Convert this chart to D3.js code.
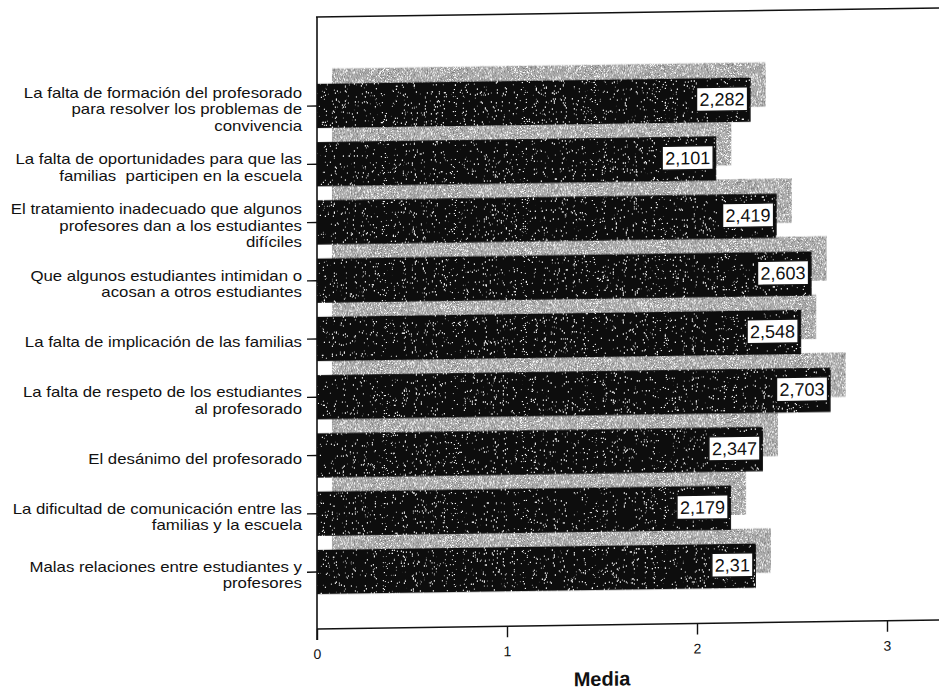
<!DOCTYPE html>
<html>
<head>
<meta charset="utf-8">
<script src="https://cdn.jsdelivr.net/npm/d3@7"></script>
<style>
  html, body { margin: 0; padding: 0; background: #fff; }
  svg { display: block; }
  text { font-family: "Liberation Sans", Arial, Helvetica, sans-serif; fill: #111; }
</style>
</head>
<body>
<svg id="chart" width="939" height="693"></svg>
<script>
// Problemas de convivencia: puntuación media por ítem
const categories = [
  ["La falta de formación del profesorado", "para resolver los problemas de", "convivencia"],
  ["La falta de oportunidades para que las", "familias  participen en la escuela"],
  ["El tratamiento inadecuado que algunos", "profesores dan a los estudiantes", "difíciles"],
  ["Que algunos estudiantes intimidan o", "acosan a otros estudiantes"],
  ["La falta de implicación de las familias"],
  ["La falta de respeto de los estudiantes", "al profesorado"],
  ["El desánimo del profesorado"],
  ["La dificultad de comunicación entre las", "familias y la escuela"],
  ["Malas relaciones entre estudiantes y", "profesores"]
];
const values = [2.282, 2.101, 2.419, 2.603, 2.548, 2.703, 2.347, 2.179, 2.31];
const xTicks = [0, 1, 2, 3];
const xTitle = "Media";

const svg = d3.select("#chart");
const defs = svg.append("defs");

// grain for the dark bars: sparse white specks
const fDark = defs.append("filter").attr("id", "grainDark")
  .attr("x", 0).attr("y", 0).attr("width", 1).attr("height", 1);
fDark.append("feTurbulence").attr("type", "fractalNoise").attr("baseFrequency", 1.1)
  .attr("numOctaves", 2).attr("seed", 4).attr("result", "n");
fDark.append("feColorMatrix").attr("in", "n").attr("type", "matrix")
  .attr("values", "0 0 0 0 1  0 0 0 0 1  0 0 0 0 1  16 0 0 0 -11.2").attr("result", "specks");
fDark.append("feComposite").attr("in", "specks").attr("in2", "SourceGraphic")
  .attr("operator", "in").attr("result", "clipped");
const mD = fDark.append("feMerge");
mD.append("feMergeNode").attr("in", "SourceGraphic");
mD.append("feMergeNode").attr("in", "clipped");

// grain for the grey shadow bars: fine salt and pepper stipple
const fGrey = defs.append("filter").attr("id", "grainGrey")
  .attr("x", 0).attr("y", 0).attr("width", 1).attr("height", 1);
fGrey.append("feTurbulence").attr("type", "fractalNoise").attr("baseFrequency", 1.3)
  .attr("numOctaves", 2).attr("seed", 9).attr("result", "n");
fGrey.append("feColorMatrix").attr("in", "n").attr("type", "matrix")
  .attr("values", "0 0 0 0 1  0 0 0 0 1  0 0 0 0 1  10 0 0 0 -5.6").attr("result", "white");
fGrey.append("feColorMatrix").attr("in", "n").attr("type", "matrix")
  .attr("values", "0 0 0 0 0.2  0 0 0 0 0.2  0 0 0 0 0.2  0 -10 0 0 4.3").attr("result", "black");
fGrey.append("feComposite").attr("in", "white").attr("in2", "SourceGraphic")
  .attr("operator", "in").attr("result", "w2");
fGrey.append("feComposite").attr("in", "black").attr("in2", "SourceGraphic")
  .attr("operator", "in").attr("result", "b2");
const mG = fGrey.append("feMerge");
mG.append("feMergeNode").attr("in", "SourceGraphic");
mG.append("feMergeNode").attr("in", "w2");
mG.append("feMergeNode").attr("in", "b2");

const x0 = 317;
const x = d3.scaleLinear().domain([0, 3.3]).range([x0, x0 + 3.3 * 190]);
const y = d3.scaleBand().domain(d3.range(categories.length))
  .range([78, 600]).paddingInner(0.24).paddingOuter(0.1);

const plotTop = 17, axisY = 629;
const shadowDx = 15, shadowDy = -15;
const skewDeg = 0.83;
const skewTan = Math.tan(skewDeg * Math.PI / 180);

// slight skew across the plotting area
const g = svg.append("g")
  .attr("transform", `translate(${x0},0) skewY(${-skewDeg}) translate(${-x0},0)`);

// frame: top rule
g.append("line").attr("x1", x0 - 1).attr("x2", 960).attr("y1", plotTop).attr("y2", plotTop)
  .attr("stroke", "#111").attr("stroke-width", 1.6);

// shadow bars
g.append("g").selectAll("rect").data(values).join("rect")
  .attr("x", x(0) + shadowDx)
  .attr("y", (d, i) => y(i) + shadowDy)
  .attr("width", d => x(d) - x(0))
  .attr("height", y.bandwidth())
  .attr("fill", "#acacac")
  .attr("filter", "url(#grainGrey)");

// main bars
g.append("g").selectAll("rect").data(values).join("rect")
  .attr("x", x(0))
  .attr("y", (d, i) => y(i))
  .attr("width", d => x(d) - x(0))
  .attr("height", y.bandwidth())
  .attr("fill", "#0a0a0a")
  .attr("filter", "url(#grainDark)");

// value boxes
const valFmt = v => String(v).replace(".", ",");
const vl = g.append("g").selectAll("g").data(values).join("g")
  .attr("transform", (d, i) => `translate(${x(d) - 3},${y(i) + y.bandwidth() / 2 - 1})`);
vl.each(function (d) {
  const sel = d3.select(this);
  const t = sel.append("text").text(valFmt(d))
    .attr("text-anchor", "end").attr("x", -3).attr("dy", "0.36em")
    .style("font-size", "18px");
  const w = t.node().getComputedTextLength();
  sel.insert("rect", "text")
    .attr("x", -w - 6).attr("y", -12).attr("width", w + 6).attr("height", 24)
    .attr("fill", "#fff").attr("stroke", "#111").attr("stroke-width", 1.4);
});

// left axis
const yAxis = d3.axisLeft(y).tickSize(10).tickFormat("");
const ya = g.append("g").attr("transform", `translate(${x0},0)`).call(yAxis);
ya.select(".domain").remove();
ya.selectAll(".tick line").attr("stroke", "#111").attr("stroke-width", 1.4);
g.append("line").attr("x1", x0).attr("x2", x0).attr("y1", plotTop).attr("y2", axisY + 11)
  .attr("stroke", "#111").attr("stroke-width", 1.6);

// category labels (kept upright, shifted to follow the skew)
const lineH = 16.5;
const labelX = 302;
const labels = svg.append("g");
categories.forEach((lines, i) => {
  const cy = y(i) + y.bandwidth() / 2 + (x0 - 160) * skewTan;
  const firstY = cy - (lines.length - 1) * lineH / 2 + 1;
  const tg = labels.append("g").attr("transform", `translate(${labelX},${firstY}) scale(1.2,1)`);
  lines.forEach((ln, k) => {
    tg.append("text").attr("x", 0).attr("y", k * lineH).attr("dy", "0.35em")
      .attr("text-anchor", "end").style("font-size", "14px").style("white-space", "pre")
      .attr("fill", "#1a1a1a").text(ln);
  });
});

// bottom axis
const xAxis = d3.axisBottom(x).tickValues(xTicks).tickSize(11).tickFormat(d3.format("d"));
const xa = g.append("g").attr("transform", `translate(0,${axisY})`).call(xAxis);
xa.select(".domain").remove();
xa.selectAll(".tick line").attr("stroke", "#111").attr("stroke-width", 1.4);
xa.selectAll(".tick text").attr("y", 20).style("font-size", "14px")
  .style("font-family", "'Liberation Sans', Arial, sans-serif").attr("fill", "#111");
g.append("line").attr("x1", x0).attr("x2", 960).attr("y1", axisY).attr("y2", axisY)
  .attr("stroke", "#111").attr("stroke-width", 1.6);

g.append("text").attr("x", 602).attr("y", 690).attr("text-anchor", "middle")
  .style("font-size", "20px").style("font-weight", "bold").text(xTitle);
</script>
</body>
</html>
